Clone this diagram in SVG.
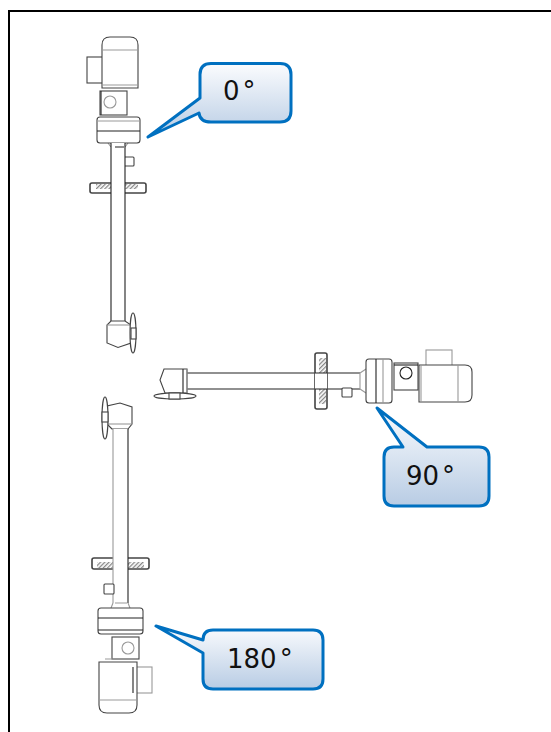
<svg xmlns="http://www.w3.org/2000/svg" width="551" height="732" viewBox="0 0 551 732">
<style>
.l{fill:#fff;stroke:#444;stroke-width:1.1}
.g{fill:none;stroke:#999;stroke-width:1.1}
.k{fill:none;stroke:#222;stroke-width:1.1}
.w{fill:#fff;stroke:none}
.p{fill:#fff;stroke:#999;stroke-width:1.1}
.c{fill:url(#grad);stroke:#0070c0;stroke-width:3;stroke-linejoin:round}
.t{font-family:"DejaVu Sans","Liberation Sans",sans-serif;font-size:26px;fill:#111}
.h{fill:url(#hatch);stroke:none}
.o{fill:#fff;stroke:#444;stroke-width:1.6}
</style>
<defs>
<linearGradient id="grad" x1="0" y1="0" x2="0" y2="1"><stop offset="0" stop-color="#fbfcfe"/><stop offset="1" stop-color="#b8cce4"/></linearGradient>
<pattern id="hatch" width="3" height="3" patternUnits="userSpaceOnUse" patternTransform="rotate(45)"><rect width="3" height="3" fill="#fff"/><rect width="1.3" height="3" fill="#888"/></pattern>
</defs>
<rect id="frame" x="9" y="11" width="560" height="740" fill="#fff" stroke="#000" stroke-width="2"/>
<g id="connectors"></g>
<g id="unit-0">
<rect class="l" x="87" y="57" width="18" height="26"/>
<path class="l" d="M102 45Q102 37 110 37H130Q138 37 138 45V88H102Z"/>
<path class="g" d="M102 50H138M103 85H137"/>
<rect class="l" x="100" y="91" width="27" height="24"/>
<path class="k" d="M101 91V115"/>
<circle class="g" cx="110" cy="102" r="6"/>
<path class="g" d="M111 147L108 143M125 147L128 143"/>
<rect class="l" x="97" y="117" width="43" height="26" rx="3"/>
<path class="g" d="M97 121H140"/>
<path class="k" d="M97 131H140"/>
<rect class="l" x="124" y="157" width="10" height="9" rx="1"/>
<rect class="o" x="90" y="183" width="56" height="10" rx="2"/>
<rect class="h" x="96" y="184" width="42" height="5"/>
<path class="w" d="M111 143H125V321H111Z"/>
<path class="k" d="M111 143V321M125 143V321M115 147H124"/>
<path class="l" d="M111 321H125L131 325V343L118 347.500L107 343V325Z"/>
<path class="g" d="M107 325H131"/>
<ellipse class="l" cx="133" cy="333" rx="3" ry="20"/>
<rect class="l" x="131" y="328" width="5" height="11"/>
</g>
<g id="unit-90">
<rect class="p" x="426" y="350" width="26" height="17"/>
<path class="l" d="M419 365H465Q472 365 472 372V395Q472 402 465 402H419Z"/>
<path class="g" d="M458 365V402M421 365V402"/>
<rect class="l" x="394" y="363" width="24" height="27"/>
<path class="k" d="M394 365H418"/>
<circle class="k" cx="406" cy="373" r="6"/>
<path class="k" d="M187 373H360M187 389H360"/>
<path class="g" d="M360 373V389M360 373L366 369M360 389L366 393"/>
<rect class="l" x="366" y="359" width="26" height="44" rx="3"/>
<path class="k" d="M376 359V403"/>
<path class="g" d="M383 359V403"/>
<rect class="l" x="342" y="388" width="10" height="9" rx="1"/>
<rect class="o" x="315" y="353" width="12" height="56" rx="2"/>
<rect class="h" x="319" y="358" width="7" height="46"/>
<path class="w" d="M315 373H327V389H315Z"/>
<path class="k" d="M315 373H327M315 389H327"/>
<path class="l" d="M187 369V393H165L160 380L164 369Z"/>
<path class="k" d="M183 369V393"/>
<path class="g" d="M187 369V393"/>
<ellipse class="l" cx="175" cy="396" rx="21" ry="3"/>
<rect class="l" x="169" y="393" width="11" height="6"/>
</g>
<g id="unit-180">
<path class="l" d="M112 429L107 424V406L120 403L132 407V424L128 429Z"/>
<path class="g" d="M107 424H132"/>
<ellipse class="l" cx="105" cy="418" rx="3" ry="21"/>
<rect class="l" x="102" y="412" width="6" height="10"/>
<rect class="o" x="92" y="558" width="57" height="11" rx="2"/>
<rect class="h" x="97" y="562" width="47" height="6"/>
<path class="w" d="M113 429H128V603H113Z"/>
<path class="g" d="M113 429V603"/>
<path class="k" d="M128 429V603"/>
<rect class="l" x="104" y="584" width="10" height="10" rx="1"/>
<path class="g" d="M113 603L111 608M128 603L130 608M115 603H127"/>
<rect class="l" x="98" y="608" width="45" height="26" rx="3"/>
<path class="k" d="M98 618H143M98 630H143"/>
<rect class="l" x="112" y="637" width="27" height="22"/>
<circle class="g" cx="128" cy="648" r="6"/>
<rect class="p" x="133" y="667" width="19" height="26"/>
<path class="l" d="M99 662H137V705Q137 713 129 713H107Q99 713 99 705Z"/>
<path class="g" d="M99 700H137M105 659H133"/>
<path class="k" d="M133 667V693"/>
</g>
<g id="callout-0">
<path class="c" d="M211 63.500H280Q291 63.500 291 74.500V111Q291 122 280 122H211Q200 122 199 113L148 137L200 98V74.500Q200 63.500 211 63.500Z"/>
<text class="t" x="223" y="100">0<tspan dx="3">°</tspan></text>
</g>
<g id="callout-90">
<path class="c" d="M394 447H403L377 408L427 447H479Q489 447 489 457V496Q489 506 479 506H394Q384 506 384 496V457Q384 447 394 447Z"/>
<text class="t" x="406" y="485">90<tspan dx="3">°</tspan></text>
</g>
<g id="callout-180">
<path class="c" d="M213 630H313Q323 630 323 640V679Q323 689 313 689H213Q203 689 203 679V653L156 626L203 640Q203 630 213 630Z"/>
<text class="t" x="227" y="668">180<tspan dx="3">°</tspan></text>
</g>
</svg>
